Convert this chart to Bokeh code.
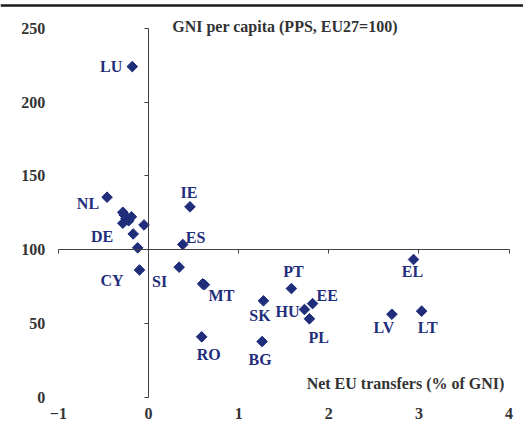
from bokeh.plotting import figure
from bokeh.models import ColumnDataSource, LinearAxis, FixedTicker, Label, Range1d
from bokeh.embed import file_html
from bokeh.resources import INLINE
from bokeh.core.properties import value

# ---- data ----
countries = ["LU", "NL", "DE", "IE", "ES", "CY", "SI", "MT", "CZ", "PT", "EL", "SK",
             "HU", "EE", "PL", "LV", "LT", "RO", "BG",
             "BE", "DK", "FR", "AT", "FI", "SE", "UK", "IT"]
net_transfers = [-0.18, -0.46, -0.17, 0.46, 0.38, -0.10, 0.34, 0.60, 0.62, 1.585, 2.94, 1.275,
                 1.73, 1.82, 1.785, 2.70, 3.03, 0.59, 1.26,
                 -0.285, -0.19, -0.285, -0.05, -0.25, -0.22, -0.27, -0.12]
gni_pc = [224, 135.5, 110.6, 129, 103.5, 86.2, 88.1, 76.8, 76.2, 73.6, 93.3, 65.3,
          59.4, 63.4, 53.1, 56.2, 58.3, 40.9, 37.7,
          125.3, 122.2, 117.9, 116.7, 121, 119.5, 123.5, 101.2]
shown_labels = ["LU", "NL", "DE", "IE", "ES", "CY", "SI", "MT", "PT", "EL", "SK",
                "HU", "EE", "PL", "LV", "LT", "RO", "BG"]
x_ticks = [-1, 0, 1, 2, 3, 4]
y_ticks = [0, 50, 100, 150, 200, 250]
y_title = "GNI per capita (PPS, EU27=100)"
x_title = "Net EU transfers (% of GNI)"

# ---- label placement (style: pixel offsets, alignment) ----
label_style = {
    "LU": (-10, 0, "right"), "NL": (-8, 6, "right"), "DE": (-20, 3, "right"),
    "CY": (-16, 11, "right"), "SI": (-12, 14, "right"), "IE": (-1, -14, "center"),
    "ES": (3, -7, "left"), "MT": (6, 12, "left"), "PT": (2, -17, "center"),
    "EL": (-1, 12, "center"), "SK": (-3.5, 15, "center"), "HU": (-5, 2, "right"),
    "EE": (4, -8, "left"), "PL": (-1, 19, "left"), "LV": (-8, 13.5, "center"),
    "LT": (6, 16.5, "center"), "RO": (7, 17.5, "center"), "BG": (-2, 17.7, "center"),
}

NAVY = "#1F2D7B"
TXT = "#333333"
AXC = "#404040"
FONT = "Liberation Serif"
FS = "16px"
X0, X1 = -1.642, 4.160
Y0, Y1 = -17.14, 268.77

pts = ColumnDataSource(dict(x=net_transfers, y=gni_pc, name=countries))

lab = {"x": [], "y": [], "name": [], "dx": [], "dy": [], "align": []}
for c, xv, yv in zip(countries, net_transfers, gni_pc):
    if c in shown_labels:
        dx, dy, al = label_style[c]
        lab["x"].append(xv); lab["y"].append(yv); lab["name"].append(c)
        lab["dx"].append(dx); lab["dy"].append(dy); lab["align"].append(al)
labs = ColumnDataSource(lab)

W, H = 523, 422
p = figure(width=W, height=H, output_backend="svg", toolbar_location=None,
           x_range=Range1d(X0, X1), y_range=Range1d(Y0, Y1),
           x_axis_location=None, y_axis_location=None,
           min_border=0, min_border_left=0, min_border_right=0,
           min_border_top=0, min_border_bottom=0)
p.outline_line_color = None
p.grid.visible = False
p.background_fill_color = "white"
p.border_fill_color = "white"

def style_labels(ax):
    ax.axis_line_color = None
    ax.major_tick_line_color = None
    ax.minor_tick_line_color = None
    ax.major_tick_in = 0
    ax.major_tick_out = 0
    ax.major_label_text_font = FONT
    ax.major_label_text_font_style = "bold"
    ax.major_label_text_font_size = FS
    ax.major_label_text_color = TXT

# tick-label axes at the chart's edges (x = -1 and y = 0)
ylab_axis = LinearAxis(fixed_location=-1, ticker=FixedTicker(ticks=y_ticks), major_label_standoff=13)
xlab_axis = LinearAxis(fixed_location=0, ticker=FixedTicker(ticks=x_ticks), major_label_standoff=11)
style_labels(ylab_axis)
style_labels(xlab_axis)
p.add_layout(ylab_axis, "left")
p.add_layout(xlab_axis, "below")

# crossing axes (lines + ticks, blank labels)
blank_x = {t: "" for t in x_ticks}
blank_y = {t: "" for t in y_ticks}
xcross = LinearAxis(fixed_location=100, ticker=FixedTicker(ticks=x_ticks),
                    major_label_overrides=blank_x, major_label_standoff=0,
                    axis_line_color=AXC, major_tick_line_color=AXC,
                    major_tick_in=0, major_tick_out=4, minor_tick_line_color=None,
                    bounds=(-1, 4))
ycross = LinearAxis(fixed_location=0, ticker=FixedTicker(ticks=y_ticks),
                    major_label_overrides=blank_y, major_label_standoff=0,
                    axis_line_color=AXC, major_tick_line_color=AXC,
                    major_tick_in=0, major_tick_out=4, minor_tick_line_color=None,
                    bounds=(0, 250))
p.add_layout(xcross, "below")
p.add_layout(ycross, "left")

# thick rule across the top (an axis line, invisible ticks, blank labels)
top_rule = LinearAxis(fixed_location=265.4, ticker=FixedTicker(ticks=x_ticks),
                      major_label_overrides=blank_x, major_label_standoff=0,
                      axis_line_color="#1a1a1a", axis_line_width=2.5,
                      major_tick_line_color=None, minor_tick_line_color=None,
                      major_tick_in=0, major_tick_out=0, bounds=(X0, X1))
p.add_layout(top_rule, "below")

p.scatter("x", "y", source=pts, marker="square", size=7.5, angle=0.785398,
          fill_color=NAVY, line_color=NAVY)
p.text("x", "y", text="name", source=labs, x_offset="dx", y_offset="dy",
       text_align="align", text_baseline="middle", text_font=value(FONT),
       text_font_style="bold", text_font_size=FS, text_color=NAVY)

p.add_layout(Label(x=1.514, y=251.2, text=y_title,
                   text_font=FONT, text_font_style="bold", text_font_size=FS,
                   text_color=TXT, text_baseline="middle", text_align="center"))
p.add_layout(Label(x=2.851, y=9.3, text=x_title,
                   text_font=FONT, text_font_style="bold", text_font_size=FS,
                   text_color=TXT, text_baseline="middle", text_align="center"))

open("out.html", "w").write(file_html(p, INLINE))
